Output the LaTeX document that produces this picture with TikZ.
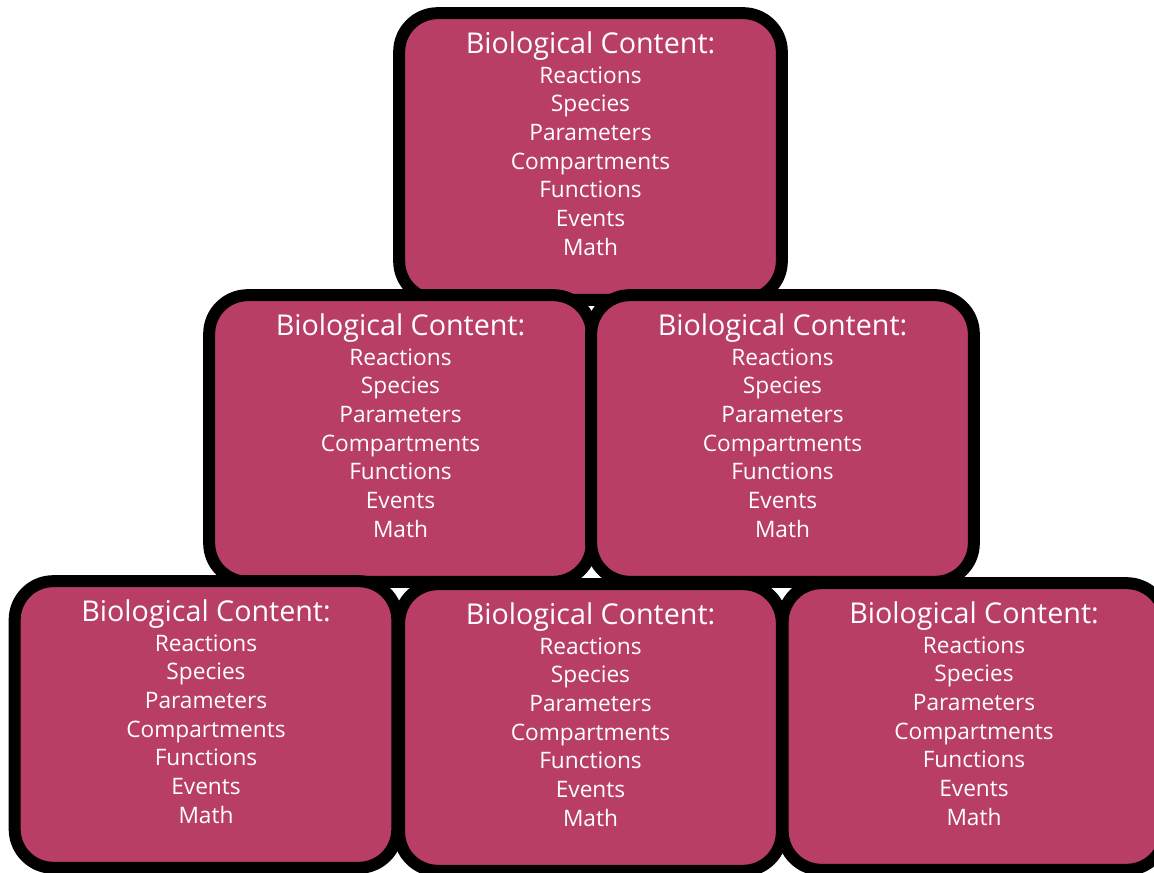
\documentclass[tikz,border=0pt]{standalone}
\usepackage{fontspec}
\setmainfont{Open Sans}
\usepackage{tikz}
\usetikzlibrary{positioning}

\definecolor{biopink}{RGB}{185,62,102}
\newcommand{\biolist}{{\fontsize{21.5}{21.5}\selectfont Biological Content:}\\[1pt]
  Reactions\\Species\\Parameters\\Compartments\\Functions\\Events\\Math}

\begin{document}
\begin{tikzpicture}[x=0.75pt,y=-0.75pt,
            bio box/.style={rounded corners=29pt, draw=black, line width=9pt,
              fill=biopink, minimum width=287pt, minimum height=215pt},
            bio text/.style={align=center, text=white, inner sep=0pt,
              font=\fontsize{17}{21.5}\selectfont}]

        \useasboundingbox (0,0) rectangle (1154,873);

        % top
        \node[bio box] (top) at (590.5,156.5) {};
        \node[bio text, below=18pt of top.north] (top text) {\biolist};

        % middle row
        \node[bio box] (midL) at (400.5,438.5) {};
        \node[bio text, below=18pt of midL.north] (midL text) {\biolist};
        \node[bio box] (midR) at (782.5,438.5) {};
        \node[bio text, below=18pt of midR.north] (midR text) {\biolist};

        % bottom row
        \node[bio box] (botL) at (206,724.5) {};
        \node[bio text, below=18pt of botL.north] (botL text) {\biolist};
        \node[bio box] (botM) at (590.5,727.5) {};
        \node[bio text, below=18pt of botM.north] (botM text) {\biolist};
        \node[bio box] (botR) at (974,726.5) {};
        \node[bio text, below=18pt of botR.north] (botR text) {\biolist};

    \end{tikzpicture}
\end{document}
